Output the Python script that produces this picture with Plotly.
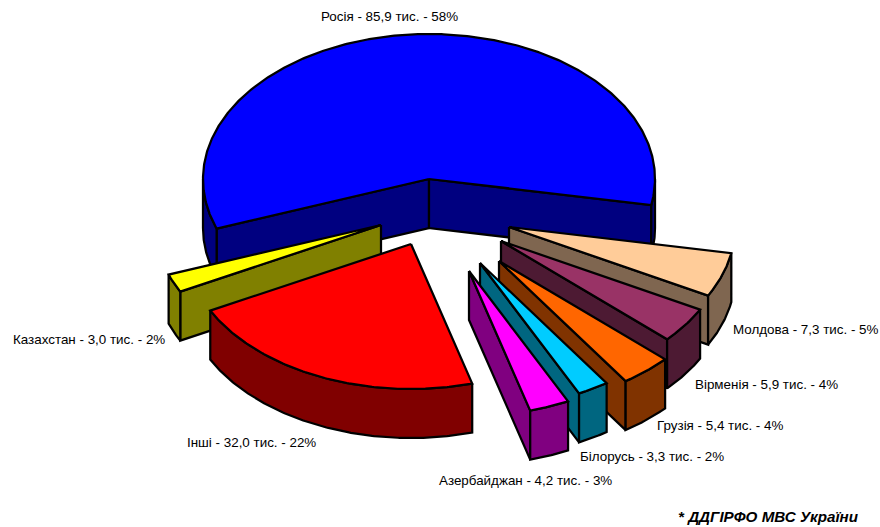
import numpy as np
import plotly.graph_objects as go

# --- data ---
names = ["Росія", "Молдова", "Вірменія", "Грузія", "Білорусь", "Азербайджан", "Інші", "Казахстан"]
values = [85.9, 7.3, 5.9, 5.4, 3.3, 4.2, 32.0, 3.0]
percents = [58, 5, 4, 4, 2, 3, 22, 2]
source_note = "* ДДГІРФО МВС України"

# --- styles and layout ---
top_colors = ["#0000FF", "#FFCC99", "#993366", "#FF6600", "#00CCFF", "#FF00FF", "#FF0000", "#FFFF00"]
side_colors = ["#000080", "#7F6650", "#4D1A33", "#803300", "#006680", "#800080", "#800000", "#808000"]
pie_apex_x = [429, 509, 501, 499, 480, 469, 411, 381]   # exploded apex of each slice
pie_apex_y = [179, 227, 241, 261, 263, 271, 244, 225]
label_x = [321, 733, 695, 657, 580, 439, 187, 13]
label_y = [16, 329, 384, 425, 456, 480, 442, 339]
draw_order = [0, 7, 1, 2, 3, 4, 5, 6]
RX, RY, DEPTH = 226, 145, 49
FIRST_ANGLE = 250.0
FONT = "Liberation Sans, Arial, sans-serif"

total = sum(values)
sweeps = [v / total * 360 for v in values]
starts = FIRST_ANGLE + np.concatenate([[0], np.cumsum(sweeps)[:-1]])


def rim(ax, ay, deg):
    r = np.radians(deg)
    return ax + RX * np.sin(r), ay - RY * np.cos(r)


fig = go.Figure()


def poly(xs, ys, color):
    fig.add_trace(go.Scatter(
        x=list(xs), y=list(ys), mode="lines", fill="toself", fillcolor=color,
        line=dict(color="black", width=2.25), hoverinfo="skip", showlegend=False))


def arc_angles(a0, a1):
    return np.linspace(a0, a1, max(int((a1 - a0) * 2), 2) + 1)


for i in draw_order:
    ax, ay = pie_apex_x[i], pie_apex_y[i]
    a0, a1 = starts[i], starts[i] + sweeps[i]
    side = side_colors[i]

    # radial walls facing the viewer
    for edge, normal in ((a0, a0 - 90), (a1, a1 + 90)):
        if np.cos(np.radians(normal - 180)) > 0:
            ex, ey = rim(ax, ay, edge)
            poly([ax, ax, ex, ex, ax], [ay, ay + DEPTH, ey + DEPTH, ey, ay], side)

    # outer wall, only the front half of the rim shows
    for lo, hi in ((90, 270), (450, 630)):
        b0, b1 = max(a0, lo), min(a1, hi)
        if b1 > b0:
            t = arc_angles(b0, b1)
            x, y = rim(ax, ay, t)
            poly(np.r_[x, x[::-1], x[0]], np.r_[y, y[::-1] + DEPTH, y[0]], side)

    # top face
    t = arc_angles(a0, a1)
    x, y = rim(ax, ay, t)
    poly(np.r_[ax, x, ax], np.r_[ay, y, ay], top_colors[i])

for i, name in enumerate(names):
    txt = f"{name} - {str(values[i]).replace('.', ',')} тис. - {percents[i]}%"
    fig.add_annotation(x=label_x[i], y=label_y[i], text=txt, showarrow=False,
                       xanchor="left", yanchor="middle", xshift=-2,
                       font=dict(family=FONT, size=13.4, color="black"))

fig.add_annotation(x=678, y=516, text=f"<b><i>{source_note}</i></b>", showarrow=False,
                   xanchor="left", yanchor="middle", xshift=-2,
                   font=dict(family=FONT, size=15.2, color="black"))

fig.update_layout(
    width=880, height=527, margin=dict(l=0, r=0, t=0, b=0),
    paper_bgcolor="white", plot_bgcolor="white", showlegend=False,
    xaxis=dict(range=[0, 880], visible=False, fixedrange=True),
    yaxis=dict(range=[527, 0], visible=False, fixedrange=True),
)

fig.write_html("out.html", post_script="document.body.style.margin='0';document.body.style.overflow='hidden';",
               config={"displayModeBar": False})
